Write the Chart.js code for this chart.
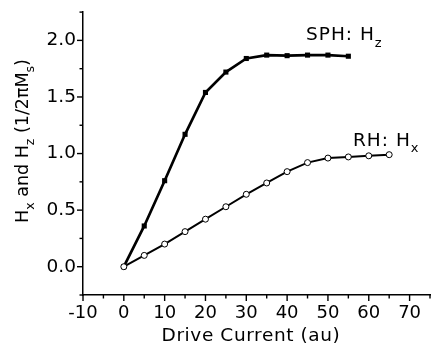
<!DOCTYPE html>
<html>
<head>
<meta charset="utf-8">
<script src="https://cdn.jsdelivr.net/npm/chart.js@4/dist/chart.umd.min.js"></script>
<style>
html,body{margin:0;padding:0;background:#fff;}
#c{display:block;}
</style>
</head>
<body>
<canvas id="c" width="435" height="356"></canvas>
<script>
// ---- data ----
const sphCurrent = [0, 5, 10, 15, 20, 25, 30, 35, 40, 45, 50, 55];
const sphHz      = [0, 0.36, 0.76, 1.17, 1.54, 1.72, 1.84, 1.87, 1.865, 1.87, 1.87, 1.86];
const rhCurrent  = [0, 5, 10, 15, 20, 25, 30, 35, 40, 45, 50, 55, 60, 65];
const rhHx       = [0, 0.10, 0.20, 0.31, 0.42, 0.53, 0.64, 0.74, 0.84, 0.92, 0.96, 0.97, 0.98, 0.99];
const xTickLabels = [-10, 0, 10, 20, 30, 40, 50, 60, 70];
const yTickLabels = [0.0, 0.5, 1.0, 1.5, 2.0];
const sphLabel = ["SPH: H", "z"];
const rhLabel  = ["RH: H", "x"];
const xTitle = "Drive Current (au)";
const yTitleRuns = [["H", 0], ["x", 1], [" and H", 0], ["z", 1], [" (1/2\u03C0M", 0], ["s", 1], [")", 0]];

const FONT = '"DejaVu Sans", "Liberation Sans", Arial, sans-serif';

function pairs(xs, ys) { return xs.map((x, i) => ({ x: x, y: ys[i] })); }

function drawRuns(ctx, runs, x, y, mainSize, subSize, subShift, align, spacing) {
  ctx.letterSpacing = (spacing || 0) + 'px';
  let total = 0;
  const widths = runs.map(r => {
    ctx.font = (r[1] ? subSize : mainSize) + 'px ' + FONT;
    const w = ctx.measureText(r[0]).width;
    total += w;
    return w;
  });
  let cx = align === 'center' ? x - total / 2 : x;
  ctx.textAlign = 'left';
  ctx.textBaseline = 'alphabetic';
  runs.forEach((r, i) => {
    ctx.font = (r[1] ? subSize : mainSize) + 'px ' + FONT;
    ctx.fillText(r[0], cx, r[1] ? y + subShift : y);
    cx += widths[i];
  });
  ctx.letterSpacing = '0px';
}

const decor = {
  id: 'decor',
  afterDraw(chart) {
    const ctx = chart.ctx;
    const xs = chart.scales.x, ys = chart.scales.y;
    ctx.save();
    ctx.strokeStyle = '#000';
    ctx.fillStyle = '#000';
    ctx.lineWidth = 1.4;
    const x0 = xs.left, yb = ys.bottom;
    xs.ticks.forEach(t => {
      const px = xs.getPixelForValue(t.value);
      const major = xTickLabels.includes(t.value);
      ctx.beginPath();
      ctx.moveTo(px, yb);
      ctx.lineTo(px, yb + (major ? 6 : 3.5));
      ctx.stroke();
    });
    ys.ticks.forEach(t => {
      const py = ys.getPixelForValue(t.value);
      const major = yTickLabels.some(v => Math.abs(v - t.value) < 1e-6);
      ctx.beginPath();
      ctx.moveTo(x0, py);
      ctx.lineTo(x0 - (major ? 6 : 3.5), py);
      ctx.stroke();
    });
    // series labels
    drawRuns(ctx, [[sphLabel[0], 0], [sphLabel[1], 1]], 306, 40, 18.5, 13, 7, 'left', 1);
    drawRuns(ctx, [[rhLabel[0], 0], [rhLabel[1], 1]], 353, 146, 18.5, 13, 6, 'left', 1);
    // x title
    drawRuns(ctx, [[xTitle, 0]], 251, 341, 18.5, 13, 0, 'center', 0.6);
    // y title (rotated)
    ctx.translate(28, 141);
    ctx.rotate(-Math.PI / 2);
    drawRuns(ctx, yTitleRuns, 0, 0, 17.5, 12.5, 6, 'center', 0);
    ctx.restore();
  }
};

new Chart(document.getElementById('c'), {
  type: 'line',
  data: {
    datasets: [
      {
        label: 'RH: Hx',
        data: pairs(rhCurrent, rhHx),
        borderColor: '#000',
        borderWidth: 2,
        pointStyle: 'circle',
        pointRadius: 3,
        pointBackgroundColor: '#fff',
        pointBorderColor: '#000',
        pointBorderWidth: 1,
        tension: 0,
        order: 0
      },
      {
        label: 'SPH: Hz',
        data: pairs(sphCurrent, sphHz),
        borderColor: '#000',
        borderWidth: 2.7,
        pointStyle: 'rect',
        pointRadius: 3.6,
        pointBackgroundColor: '#000',
        pointBorderColor: '#000',
        pointBorderWidth: 0,
        tension: 0,
        order: 1
      }
    ]
  },
  options: {
    responsive: false,
    animation: false,
    devicePixelRatio: 1,
    layout: { padding: { top: 10, right: 0, left: 0, bottom: 0 } },
    plugins: { legend: { display: false }, tooltip: { enabled: false } },
    scales: {
      x: {
        type: 'linear',
        min: -10, max: 75,
        afterFit(s) { s.height = 61; },
        border: { display: true, color: '#000', width: 1.5 },
        grid: { display: true, drawOnChartArea: false, drawTicks: true, tickLength: 6, tickColor: 'rgba(0,0,0,0)' },
        ticks: {
          stepSize: 5, autoSkip: false, maxRotation: 0, padding: 2,
          color: '#000', font: { family: FONT, size: 18 },
          callback: v => xTickLabels.includes(v) ? String(v) : ''
        }
      },
      y: {
        type: 'linear',
        min: -0.25, max: 2.25,
        afterFit(s) { s.width = 83; },
        border: { display: true, color: '#000', width: 1.5 },
        grid: { display: true, drawOnChartArea: false, drawTicks: true, tickLength: 6, tickColor: 'rgba(0,0,0,0)' },
        ticks: {
          stepSize: 0.25, autoSkip: false, padding: 1,
          color: '#000', font: { family: FONT, size: 18.5 },
          callback: v => {
            const m = yTickLabels.find(t => Math.abs(t - v) < 1e-6);
            return m === undefined ? '' : m.toFixed(1);
          }
        }
      }
    }
  },
  plugins: [decor]
});
</script>
</body>
</html>
